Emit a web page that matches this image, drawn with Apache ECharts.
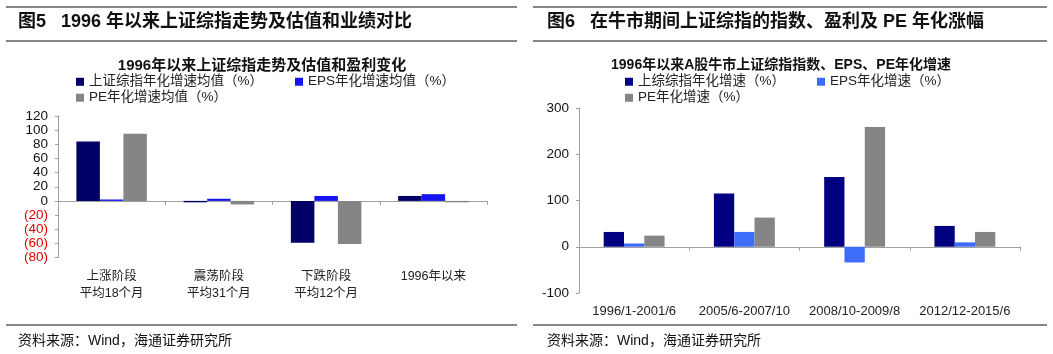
<!DOCTYPE html>
<html>
<head>
<meta charset="utf-8">
<script src="https://cdn.jsdelivr.net/npm/echarts@6/dist/echarts.min.js"></script>
<style>
  html, body { margin: 0; padding: 0; background: #fff; }
  #main { width: 1053px; height: 354px; }
</style>
</head>
<body>
<div id="main"></div>
<script>
// 左图：1996年以来上证综指走势及估值和盈利变化
var leftCategories = ['上涨阶段\n平均18个月', '震荡阶段\n平均31个月', '下跌阶段\n平均12个月', '1996年以来'];
var leftIndex = [84, -2, -59, 7];
var leftEps = [2, 3, 7, 9.5];
var leftPe = [95, -5, -61, -2];
var leftTicks = [-80, -60, -40, -20, 0, 20, 40, 60, 80, 100, 120];

// 右图：1996年以来A股牛市上证综指指数、EPS、PE年化增速
var rightCategories = ['1996/1-2001/6', '2005/6-2007/10', '2008/10-2009/8', '2012/12-2015/6'];
var rightIndex = [32, 115, 151, 45];
var rightEps = [7, 32, -34, 9.5];
var rightPe = [24, 63, 259, 32];
var rightTicks = [-100, 0, 100, 200, 300];

var FONT = '"Liberation Sans", Arial, "Noto Sans CJK SC", sans-serif';
var myChart = echarts.init(document.getElementById('main'));

function legendItem(name, x, y) {
    return {
        data: [name],
        left: x, top: y,
        padding: 0,
        icon: 'rect',
        itemWidth: 8, itemHeight: 8,
        selectedMode: false,
        textStyle: { fontSize: 13.5, color: '#222', fontFamily: FONT }
    };
}

function hline(x1, x2, y) {
    return {
        type: 'line',
        shape: { x1: x1, y1: y, x2: x2, y2: y },
        style: { stroke: '#111', lineWidth: 1.2 }
    };
}

function text(str, x, y, size, bold) {
    return {
        type: 'text', left: x, top: y,
        style: {
            text: str, fill: '#111', fontSize: size,
            fontWeight: bold ? 'bold' : 'normal', fontFamily: FONT
        }
    };
}

var axisGray = '#a0a0a0';

var option = {
    animation: false,
    title: [{
        text: '1996年以来上证综指走势及估值和盈利变化',
        left: 257, top: 53, textAlign: 'center',
        textStyle: { fontSize: 15, fontWeight: 'bold', color: '#111', fontFamily: FONT }
    }, {
        text: '1996年以来A股牛市上证综指指数、EPS、PE年化增速',
        left: 776, top: 53, textAlign: 'center',
        textStyle: { fontSize: 14, fontWeight: 'bold', color: '#111', fontFamily: FONT }
    }],
    legend: [
        legendItem('上证综指年化增速均值（%）', 76, 75),
        legendItem('EPS年化增速均值（%）', 295, 75),
        legendItem('PE年化增速均值（%）', 76, 91),
        legendItem('上综综指年化增速（%）', 625, 75),
        legendItem('EPS年化增速（%）', 817, 75),
        legendItem('PE年化增速（%）', 625, 91)
    ],
    grid: [
        { left: 58, top: 116, width: 429, height: 141.5 },
        { left: 579, top: 108, width: 441, height: 185 }
    ],
    xAxis: [{
        type: 'category', gridIndex: 0, data: leftCategories,
        axisLine: { onZero: true, lineStyle: { color: axisGray } },
        axisTick: { show: true, length: 4, lineStyle: { color: axisGray } },
        axisLabel: { interval: 0, margin: 11, fontSize: 12.5, lineHeight: 17, color: '#222', fontFamily: FONT }
    }, {
        type: 'category', gridIndex: 1, data: rightCategories,
        axisLine: { onZero: true, lineStyle: { color: axisGray } },
        axisTick: { show: true, length: 4, lineStyle: { color: axisGray } },
        axisLabel: { interval: 0, margin: 12, fontSize: 13, color: '#222', fontFamily: FONT }
    }],
    yAxis: [{
        type: 'value', gridIndex: 0,
        min: leftTicks[0], max: leftTicks[leftTicks.length - 1], interval: 20,
        axisLine: { show: true, lineStyle: { color: axisGray } },
        axisTick: { show: true, length: 3, lineStyle: { color: axisGray } },
        splitLine: { show: false },
        axisLabel: {
            margin: 10, fontSize: 13.5, fontFamily: FONT,
            formatter: function (v) { return v < 0 ? '(' + (-v) + ')' : String(v); },
            color: function (v) { return Number(v) < 0 ? '#e00000' : '#111'; }
        }
    }, {
        type: 'value', gridIndex: 1,
        min: rightTicks[0], max: rightTicks[rightTicks.length - 1], interval: 100,
        axisLine: { show: true, lineStyle: { color: axisGray } },
        axisTick: { show: true, length: 3, lineStyle: { color: axisGray } },
        splitLine: { show: false },
        axisLabel: { margin: 10, fontSize: 13.5, color: '#111', fontFamily: FONT }
    }],
    series: [
        { name: '上证综指年化增速均值（%）', type: 'bar', xAxisIndex: 0, yAxisIndex: 0,
          data: leftIndex, barWidth: 23.5, barGap: '0%', itemStyle: { color: '#000066' } },
        { name: 'EPS年化增速均值（%）', type: 'bar', xAxisIndex: 0, yAxisIndex: 0,
          data: leftEps, barWidth: 23.5, barGap: '0%', itemStyle: { color: '#1414f0' } },
        { name: 'PE年化增速均值（%）', type: 'bar', xAxisIndex: 0, yAxisIndex: 0,
          data: leftPe, barWidth: 23.5, barGap: '0%', itemStyle: { color: '#858585' } },
        { name: '上综综指年化增速（%）', type: 'bar', xAxisIndex: 1, yAxisIndex: 1,
          data: rightIndex, barWidth: 20.3, barGap: '0%', itemStyle: { color: '#000080' } },
        { name: 'EPS年化增速（%）', type: 'bar', xAxisIndex: 1, yAxisIndex: 1,
          data: rightEps, barWidth: 20.3, barGap: '0%', itemStyle: { color: '#3d6cf8' } },
        { name: 'PE年化增速（%）', type: 'bar', xAxisIndex: 1, yAxisIndex: 1,
          data: rightPe, barWidth: 20.3, barGap: '0%', itemStyle: { color: '#858585' } }
    ],
    graphic: [
        hline(6, 517, 7), hline(6, 517, 41), hline(6, 517, 325),
        hline(533, 1047, 7), hline(533, 1047, 41), hline(533, 1047, 325),
        text('图5   1996 年以来上证综指走势及估值和业绩对比', 18, 13, 18, true),
        text('图6   在牛市期间上证综指的指数、盈利及 PE 年化涨幅', 547, 13, 18, true),
        text('资料来源：Wind，海通证券研究所', 18, 334, 14, false),
        text('资料来源：Wind，海通证券研究所', 547, 334, 14, false)
    ]
};
myChart.setOption(option);
</script>
</body>
</html>
